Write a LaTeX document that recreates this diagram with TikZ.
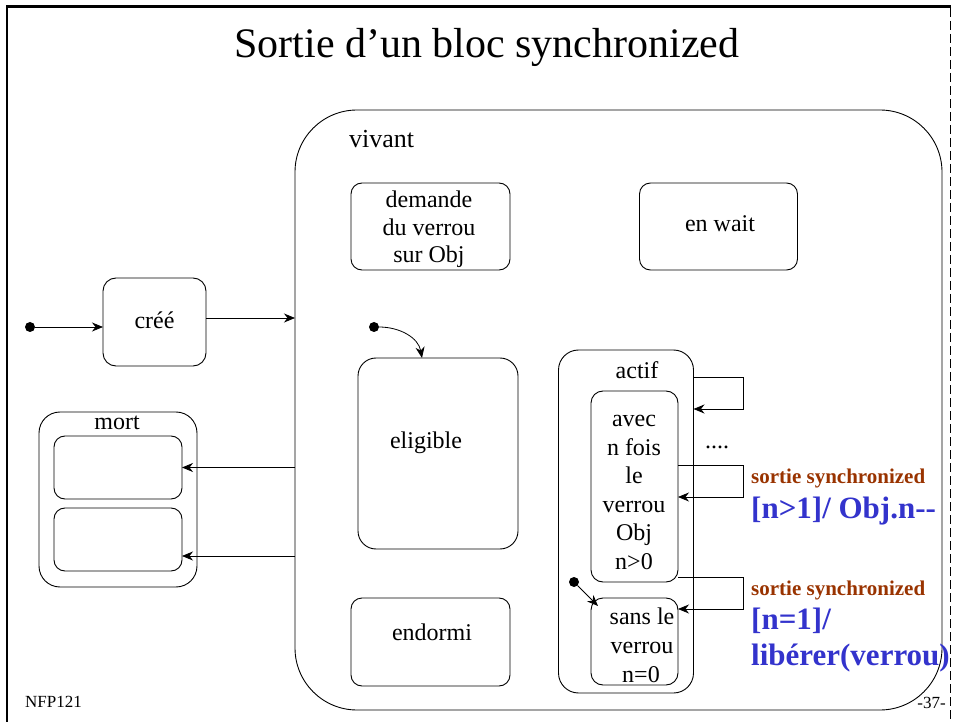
\documentclass[tikz,border=0pt]{standalone}
\usepackage{fontspec}
\setmainfont{Liberation Serif}
\usetikzlibrary{arrows.meta}
\definecolor{tblue}{RGB}{51,51,204}
\definecolor{tbrown}{RGB}{153,51,0}
\begin{document}
\begin{tikzpicture}[x=1pt,y=-1pt,
  state/.style={draw, line width=0.9pt, rounded corners=11pt, inner sep=0pt, outer sep=0pt},
  lbl/.style={font=\fontsize{24}{28}\selectfont, anchor=base, inner sep=0pt},
  conn/.style={line width=0.8pt, -{Stealth[length=11pt,width=9pt,inset=3.5pt]}},
  initdot/.style={circle, fill=black, minimum size=10pt, inner sep=0pt, outer sep=0pt},
  brown/.style={font=\fontsize{21}{25}\selectfont\bfseries, text=tbrown, anchor=base west, inner sep=0pt},
  blue/.style={font=\fontsize{31}{36}\selectfont\bfseries, text=tblue, anchor=base west, inner sep=0pt},
  small/.style={font=\fontsize{17}{20}\selectfont, inner sep=0pt},
]
\useasboundingbox (0,0) rectangle (954,722);
% frame
\draw[line width=2.4pt] (951,6.5) -- (7,6.5) -- (7,722);
\draw[line width=0.8pt, dash pattern=on 9pt off 4pt] (950,8) -- (950,722);

% title
\node[font=\fontsize{42}{50}\selectfont, anchor=base, inner sep=0pt] (title) at (487,58) {Sortie d’un bloc synchronized};

% states
\node[state, minimum width=647pt, minimum height=600pt, rounded corners=62pt] (viv) at (618.5,410) {};
\node[lbl, anchor=base west, font=\fontsize{26}{30}\selectfont] (vivlbl) at (349,148) {vivant};

\node[state, minimum width=103pt, minimum height=88pt, rounded corners=13pt] (cree) at (154.5,322) {};
\node[lbl] (creelbl) at (154.5,329) {créé};

\node[state, minimum width=158pt, minimum height=175pt, rounded corners=21pt] (mort) at (118,499.5) {};
\node[lbl] (mortlbl) at (117,429) {mort};
\node[state, minimum width=128pt, minimum height=63pt] (mort1) at (118,467.5) {};
\node[state, minimum width=128pt, minimum height=63pt] (mort2) at (118,539.5) {};

\node[state, minimum width=159pt, minimum height=87pt] (dem) at (430.5,226.5) {};
\node[lbl] (dem1) at (429,208) {demande};
\node[lbl] (dem2) at (429,236) {du verrou};
\node[lbl] (dem3) at (429,263) {sur Obj};

\node[state, minimum width=158pt, minimum height=87pt] (wait) at (718.5,226.5) {};
\node[lbl] (waitlbl) at (720,232) {en wait};

\node[state, minimum width=160pt, minimum height=191pt, rounded corners=18pt] (elig) at (438,453.5) {};
\node[lbl] (eliglbl) at (426,448) {eligible};

\node[state, minimum width=159pt, minimum height=88pt] (endo) at (430.5,642) {};
\node[lbl] (endolbl) at (432,640) {endormi};

\node[state, minimum width=135pt, minimum height=343pt, rounded corners=20pt] (actif) at (626,521.5) {};
\node[lbl] (actiflbl) at (637,378) {actif};

\node[state, minimum width=87pt, minimum height=191pt, rounded corners=12pt] (avec) at (634.5,486.5) {};
\node[lbl] (av1) at (634,426) {avec};
\node[lbl] (av2) at (634,455) {n fois};
\node[lbl] (av3) at (634,483) {le};
\node[lbl] (av4) at (634,512) {verrou};
\node[lbl] (av5) at (634,540) {Obj};
\node[lbl] (av6) at (634,569) {n>0};

\node[state, minimum width=87pt, minimum height=87pt, rounded corners=12pt] (sans) at (634.5,641.5) {};
\node[lbl] (sa1) at (642,624) {sans le};
\node[lbl] (sa2) at (642,653) {verrou};
\node[lbl] (sa3) at (641,682) {n=0};

\node[lbl] (dots) at (717,448) {....};

% initial dots
\node[initdot] (d1) at (30,327) {};
\node[initdot] (d2) at (374,327) {};
\node[initdot] (d3) at (574,582) {};

% connectors
\coordinate (lx) at (743,0);
\draw[conn] (d1) -- (d1 -| cree.west);
\draw[conn] (cree.east |- 0,318) -- (viv.west |- 0,318);
\draw[conn] (viv.west |- mort1.east) -- (mort1.east);
\draw[conn] (viv.west |- 0,556) -- (mort2.east |- 0,556);
\draw[conn] (d2) to[out=0, in=100] (elig.north -| 422,0);
\draw[conn] (d3) -- ([shift={(7,8)}]sans.north west);
\draw[conn] (actif.east |- 0,377) -- (lx |- 0,377) -- (lx |- 0,409) -- (actif.east |- 0,409);
\draw[conn] (avec.east |- 0,465) -- (lx |- 0,465) -- (lx |- 0,497) -- (avec.east |- 0,497);
\draw[conn] (avec.east |- 0,577) -- (lx |- 0,577) -- (lx |- 0,609) -- (sans.east |- 0,609);

% transition labels
\node[brown] (t1a) at (751,483) {sortie synchronized};
\node[blue] (t1b) at (751,518) {[n>1]/ Obj.n-{}-};
\node[brown] (t2a) at (751,595) {sortie synchronized};
\node[blue] (t2b) at (751,629) {[n=1]/};
\node[blue] (t2c) at (751,665) {libérer(verrou)};

% footer
\node[small, anchor=base west] (nfp) at (25,707) {NFP121};
\node[small, anchor=base east] (page) at (946,708) {-37-};
\end{tikzpicture}
\end{document}
